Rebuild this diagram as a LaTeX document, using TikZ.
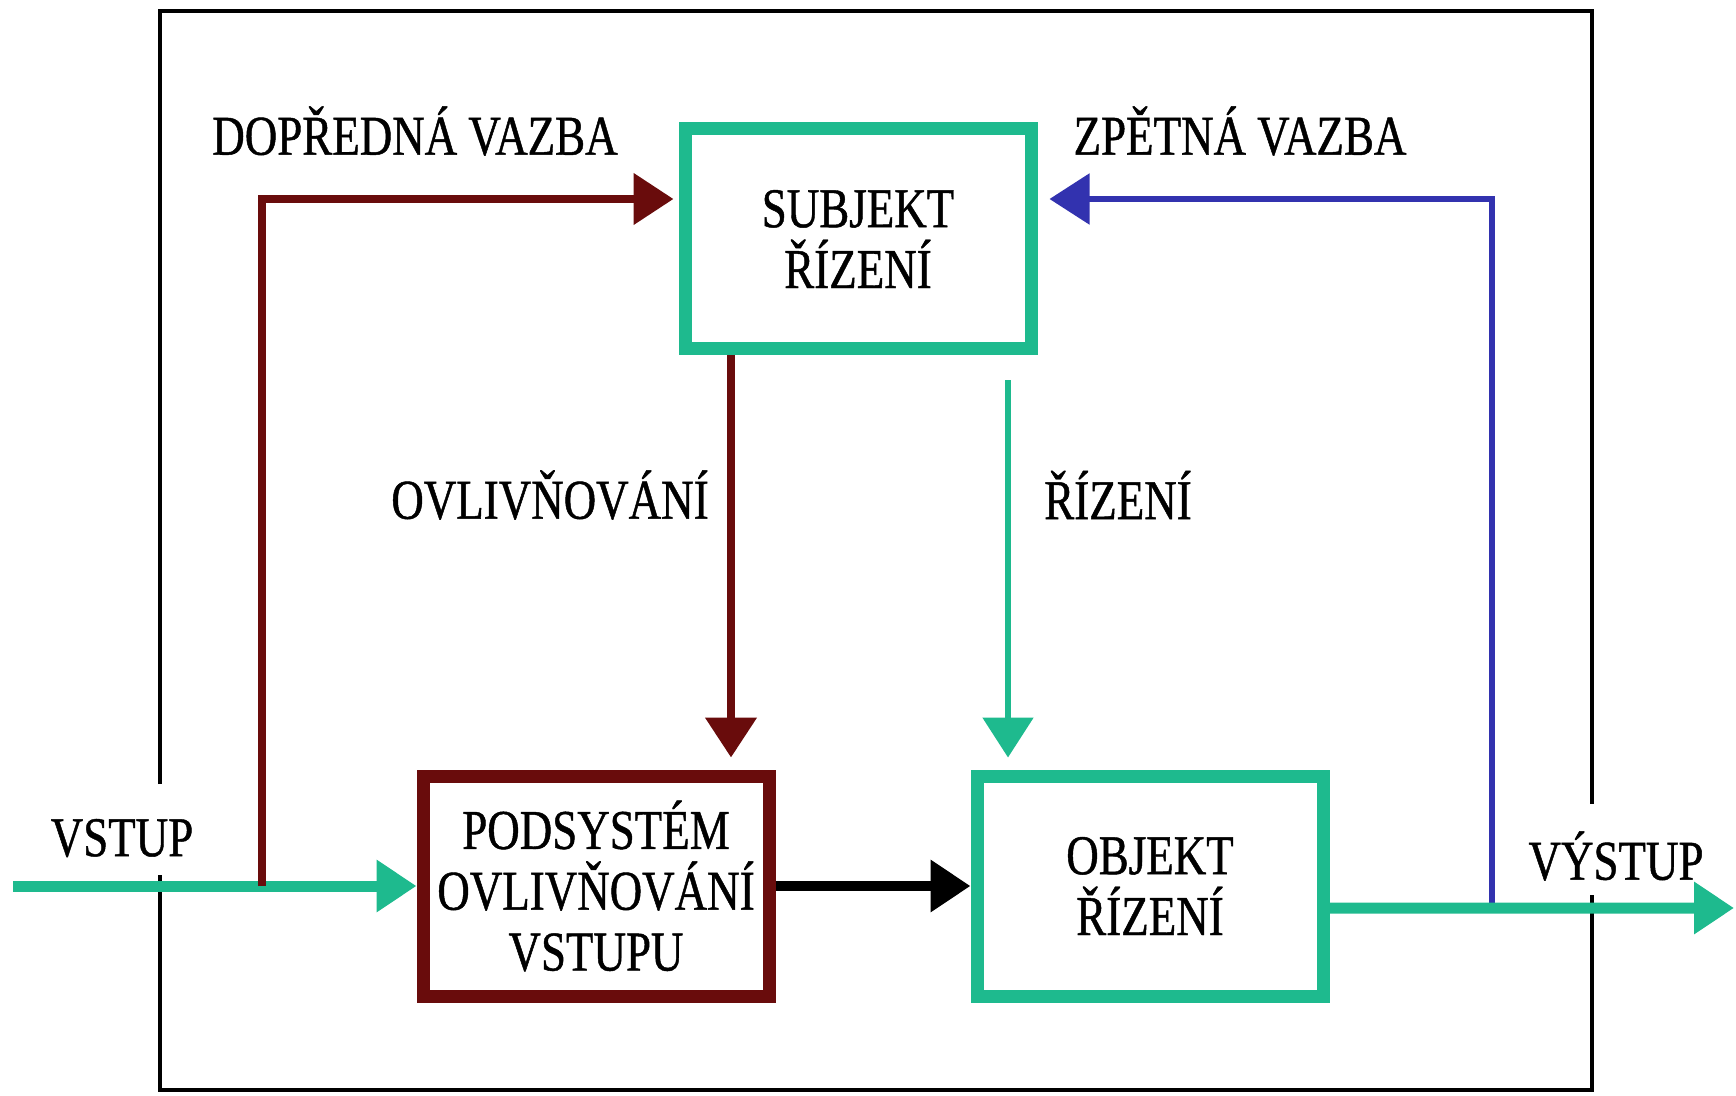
\documentclass[tikz,border=0pt]{standalone}
\usepackage{fontspec}
\setmainfont{Liberation Serif}[FakeStretch=0.8, FakeBold=0.8]
\usetikzlibrary{arrows.meta}
\definecolor{tealgreen}{RGB}{30,186,142}
\definecolor{darkred}{RGB}{105,12,12}
\definecolor{fbblue}{RGB}{50,50,175}
\begin{document}
\begin{tikzpicture}[
    x=0.1mm, y=-0.1mm,
    font=\fontsize{16}{17.3}\selectfont,
    box/.style={rectangle, draw, line width=1.3mm, minimum width=34.6mm, minimum height=22mm, align=center, fill=white},
    frame/.style={line width=0.45mm},
    >={Triangle[length=4mm,width=5mm]}
]
\useasboundingbox (0,0) rectangle (1736,1096);

% ramecek systemu
\draw[frame] (160,784) -- (160,11) -- (1592,11) -- (1592,804);
\draw[frame] (160,875) -- (160,1090) -- (1592,1090) -- (1592,895);

\node[box, draw=tealgreen] (subj) at (858,239) {SUBJEKT\\ŘÍZENÍ};
\node[box, draw=darkred] (pods) at (596,886) {PODSYSTÉM\\OVLIVŇOVÁNÍ\\VSTUPU};
\node[box, draw=tealgreen] (obj) at (1150,886) {OBJEKT\\ŘÍZENÍ};

\node (ffwd) at (415,131) {DOPŘEDNÁ VAZBA};
\node (fback) at (1240,131) {ZPĚTNÁ VAZBA};
\node (infl) at (550,495) {OVLIVŇOVÁNÍ};
\node (ctrl) at (1118,495) {ŘÍZENÍ};
\node (inp) at (122,838) {VSTUP};
\node (outp) at (1616,856) {VÝSTUP};

\coordinate (start) at (13,886);
\coordinate (fork) at (262,886);
\coordinate (tap) at (1492,908);
\coordinate (end) at (1734,908);
\coordinate (ovl) at ([xshift=13.5mm]pods.north);
\coordinate (ctl) at ([xshift=-14.2mm]obj.north);

\draw[->, tealgreen, line width=1.1mm] (start) -- (pods.west);
\draw[->, darkred, line width=0.8mm, shorten >=0.5mm] (fork) |- ([yshift=4mm]subj.west);
\draw[->, fbblue, line width=0.55mm, shorten >=1.2mm] (tap) |- ([yshift=4mm]subj.east);
\draw[->, darkred, line width=0.8mm, shorten >=1.2mm] (ovl |- subj.south) -- (ovl);
\draw[->, tealgreen, line width=0.55mm, shorten <=2.5mm, shorten >=1.2mm] (ctl |- subj.south) -- (ctl);
\draw[->, line width=1mm] (pods.east) -- (obj.west);
\draw[->, tealgreen, line width=1.1mm] ([yshift=-2.2mm]obj.east) -- (end);
\end{tikzpicture}
\end{document}
